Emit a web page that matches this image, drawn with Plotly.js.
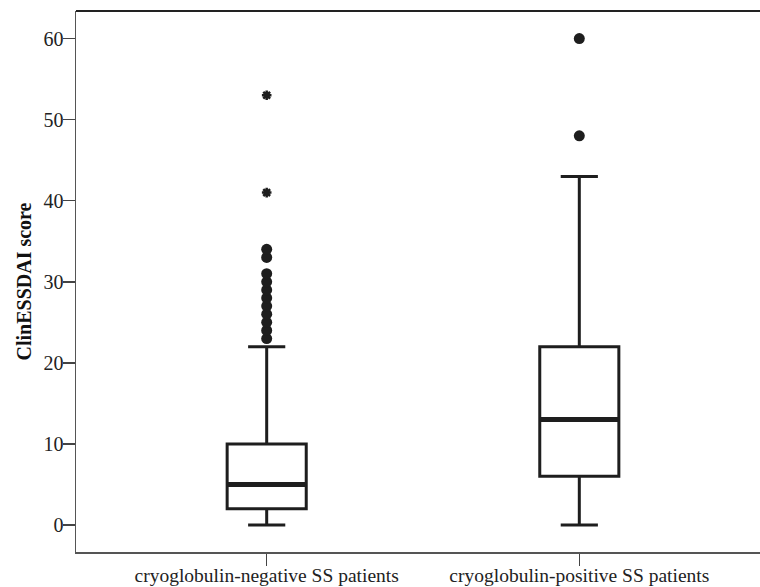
<!DOCTYPE html>
<html>
<head>
<meta charset="utf-8">
<script src="https://cdn.plot.ly/plotly-3.0.1.min.js"></script>
<style>html,body{margin:0;padding:0;background:#fff;}#chart{width:760px;height:587px;}</style>
</head>
<body>
<div id="chart"></div>
<script>
// Data
const categories = ["cryoglobulin-negative SS patients", "cryoglobulin-positive SS patients"];
const lowerWhisker = [0, 0];
const q1 = [2, 6];
const medians = [5, 13];
const q3 = [10, 22];
const upperWhisker = [22, 43];
const outliersNegative = [23, 24, 25, 26, 27, 28, 29, 30, 31, 33, 34];
const outliersPositive = [48, 60];
const extremesNegative = [41, 53];
const yTickVals = [0, 10, 20, 30, 40, 50, 60];

const ink = "#1e1e1e";
const font = "Liberation Serif, Times New Roman, serif";

const traces = [
  {
    type: "box",
    x: categories,
    q1: q1,
    median: medians,
    q3: q3,
    lowerfence: lowerWhisker,
    upperfence: upperWhisker,
    boxpoints: false,
    width: 0.253,
    whiskerwidth: 0.47,
    fillcolor: "#ffffff",
    line: {color: ink, width: 3},
    hoverinfo: "skip",
    showlegend: false
  },
  {
    // thicker median bar, SPSS style
    type: "box",
    x: categories,
    q1: medians,
    median: medians,
    q3: medians,
    lowerfence: medians,
    upperfence: medians,
    boxpoints: false,
    width: 0.253,
    whiskerwidth: 0,
    fillcolor: ink,
    line: {color: ink, width: 5},
    hoverinfo: "skip",
    showlegend: false
  },
  {
    type: "scatter",
    mode: "markers",
    x: outliersNegative.map(() => categories[0]),
    y: outliersNegative,
    marker: {symbol: "circle", size: 11, color: ink},
    showlegend: false,
    hoverinfo: "y"
  },
  {
    type: "scatter",
    mode: "markers",
    x: outliersPositive.map(() => categories[1]),
    y: outliersPositive,
    marker: {symbol: "circle", size: 11, color: ink},
    showlegend: false,
    hoverinfo: "y"
  },
  {
    type: "scatter",
    mode: "markers",
    x: extremesNegative.map(() => categories[0]),
    y: extremesNegative,
    marker: {symbol: "asterisk-open", size: 8, color: ink, line: {color: ink, width: 2.5}},
    showlegend: false,
    hoverinfo: "y"
  }
];

const layout = {
  width: 760,
  height: 587,
  margin: {l: 76, r: 0, t: 11, b: 35},
  paper_bgcolor: "#ffffff",
  plot_bgcolor: "#ffffff",
  font: {family: font, size: 20, color: "#222"},
  showlegend: false,
  boxmode: "overlay",
  xaxis: {
    type: "category",
    range: [-0.61, 1.578],
    showgrid: false,
    zeroline: false,
    showline: true,
    linecolor: "#555",
    linewidth: 1.5,
    mirror: false,
    ticks: "outside",
    ticklen: 12,
    tickwidth: 1.5,
    tickcolor: "#444",
    ticklabelstandoff: -7,
    tickfont: {family: font, size: 19.5, color: "#222"},
    fixedrange: true
  },
  yaxis: {
    range: [-3.33, 63.4],
    tickvals: yTickVals,
    ticktext: yTickVals.map(String),
    showgrid: false,
    zeroline: false,
    showline: true,
    linecolor: "#555",
    linewidth: 1.5,
    ticks: "outside",
    ticklen: 12,
    tickwidth: 1.5,
    tickcolor: "#444",
    ticklabelstandoff: -5,
    tickfont: {family: font, size: 20, color: "#222"},
    title: {text: "<b>ClinESSDAI score</b>", font: {family: font, size: 20, color: "#111"}, standoff: 6},
    fixedrange: true
  },
  shapes: [
    {type: "line", xref: "paper", yref: "paper", x0: 0, x1: 1, y0: 1, y1: 1, line: {color: "#222", width: 2}}
  ]
};

Plotly.newPlot("chart", traces, layout, {displayModeBar: false, staticPlot: true});
</script>
</body>
</html>
